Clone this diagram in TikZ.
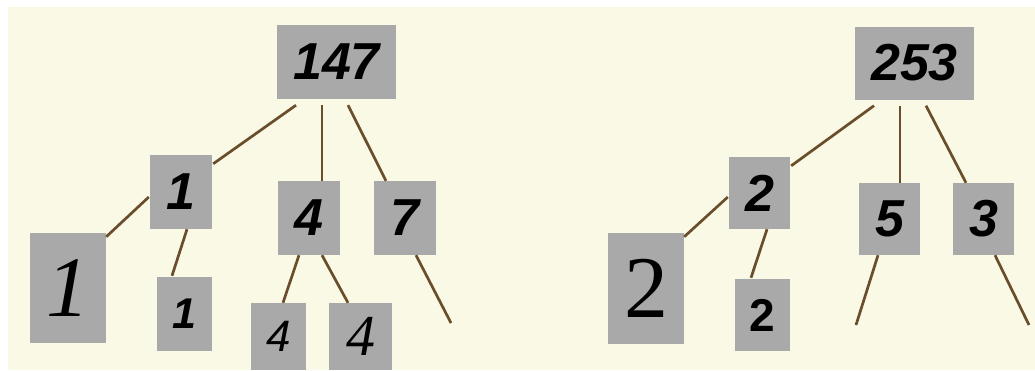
\documentclass[tikz,border=0pt]{standalone}
\usepackage{fontspec}
\setmainfont{Liberation Sans}
\newfontfamily\seriffam{Liberation Serif}
\usetikzlibrary{calc}
\definecolor{cream}{HTML}{F9F9E6}
\definecolor{boxgrey}{HTML}{A9A9A9}
\definecolor{branch}{HTML}{6A4E2C}
\tikzset{
  box/.style={fill=boxgrey, draw=none, inner sep=0pt, anchor=center, text=black},
  bigsans/.style={font=\fontsize{52}{52}\selectfont\bfseries\itshape},
  edge/.style={draw=branch, line width=2.7pt}
}
\begin{document}
\begin{tikzpicture}[x=1pt,y=-1pt]
\useasboundingbox (0,0) rectangle (1035,370);
\fill[white] (0,0) rectangle (1035,370);
\fill[cream] (8,7) rectangle (1035,370);
% left tree
\node[box,bigsans,minimum width=119pt,minimum height=74pt] (n147) at (336.5,62) {147};
\node[box,bigsans,minimum width=62pt,minimum height=74pt] (nA1) at (181,192) {1};
\node[box,bigsans,minimum width=62pt,minimum height=74pt] (nA4) at (309,218) {4};
\node[box,bigsans,minimum width=62pt,minimum height=74pt] (nA7) at (405,218) {7};
\node[box,minimum width=76pt,minimum height=110pt,font=\fontsize{86}{86}\selectfont\seriffam\itshape] (nB1) at (68,288) {1};
\node[box,minimum width=55pt,minimum height=74pt,font=\fontsize{43}{43}\selectfont\bfseries\itshape] (nC1) at (184.5,314) {1};
\node[box,minimum width=55pt,minimum height=67pt,font=\fontsize{44}{44}\selectfont\itshape] (nD4) at (278.5,336.5) {\raisebox{-2.5pt}{4}};
\node[box,minimum width=63pt,minimum height=67pt,font=\fontsize{58}{58}\selectfont\seriffam\itshape] (nE4) at (360.5,336.5) {\raisebox{-3pt}{4}};
\coordinate (e7) at (451,323);
\draw[edge] ($(n147.south)+(-40.5,6)$) -- ($(nA1.north east)+(1,9)$);
\draw[edge] ($(n147.south)+(-14.5,6)$) -- ($(nA4.north)+(13,0)$);
\draw[edge] ($(n147.south)+(11.5,6)$) -- ($(nA7.north)+(-19,0)$);
\draw[edge] ($(nA1.west)+(-1,5)$) -- ($(nB1.north east)+(0,4)$);
\draw[edge] ($(nA1.south)+(6,0)$) -- ($(nC1.north)+(-12.5,-1)$);
\draw[edge] ($(nA4.south)+(-10,0)$) -- ($(nD4.north)+(4.5,0)$);
\draw[edge] ($(nA4.south)+(13,0)$) -- ($(nE4.north)+(-12.5,0)$);
\draw[edge] ($(nA7.south)+(11,0)$) -- (e7);
% right tree
\node[box,bigsans,minimum width=119pt,minimum height=73pt] (n253) at (914.5,63) {253};
\node[box,bigsans,minimum width=61pt,minimum height=72pt] (nR2) at (759.5,193) {2};
\node[box,bigsans,minimum width=61pt,minimum height=72pt] (nR5) at (889.5,219) {5};
\node[box,bigsans,minimum width=61pt,minimum height=72pt] (nR3) at (983.5,219) {3};
\node[box,minimum width=76pt,minimum height=111pt,font=\fontsize{88}{88}\selectfont\seriffam] (nRB2) at (646,288.5) {2};
\node[box,minimum width=55pt,minimum height=72pt,font=\fontsize{46}{46}\selectfont\bfseries] (nRC2) at (762.5,315) {2};
\coordinate (e5) at (856,325);
\coordinate (e3) at (1029,325);
\draw[edge] ($(n253.south)+(-40.5,6)$) -- ($(nR2.north east)+(1,9)$);
\draw[edge] ($(n253.south)+(-14.5,6)$) -- ($(nR5.north)+(10.5,0)$);
\draw[edge] ($(n253.south)+(11.5,6)$) -- ($(nR3.north)+(-17.5,0)$);
\draw[edge] ($(nR2.west)+(-1,4)$) -- ($(nRB2.north east)+(0,4)$);
\draw[edge] ($(nR2.south)+(7.5,0)$) -- ($(nRC2.north)+(-11.5,-1)$);
\draw[edge] ($(nR5.south)+(-11.5,0)$) -- (e5);
\draw[edge] ($(nR3.south)+(11.5,0)$) -- (e3);
\end{tikzpicture}
\end{document}
